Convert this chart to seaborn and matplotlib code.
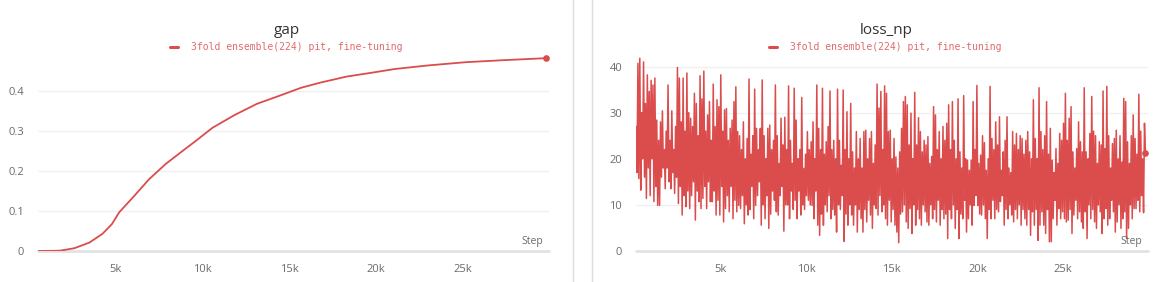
import numpy as np
import pandas as pd
import matplotlib
matplotlib.use("Agg")
import matplotlib.pyplot as plt
import seaborn as sns
from matplotlib.lines import Line2D

# ---------------- data ----------------
series_name = "3fold ensemble(224) pit, fine-tuning"

gap_steps = [500, 1500, 1800, 2600, 3460, 4220, 4760, 5190, 6040, 6900, 7880, 8840,
             9600, 10570, 11850, 13140, 14430, 15680, 16800, 18310, 19810, 21100,
             23040, 25190, 27340, 29800]
gap_values = [0.0, 0.0005, 0.001, 0.007, 0.021, 0.043, 0.067, 0.097, 0.137, 0.179,
              0.218, 0.25, 0.275, 0.308, 0.34, 0.368, 0.388, 0.408, 0.421, 0.436,
              0.446, 0.455, 0.464, 0.472, 0.477, 0.482]

loss_np_seg1 = [27, 17, 40.7, 15.7, 41.8, 13.2, 30, 20, 41, 16, 32, 11.4, 38.2, 18,
                34.6, 12, 37, 20, 36, 10.7, 37.5, 14, 28.4, 9.9, 24, 9.9, 28, 16,
                30.4, 18, 22, 13.5, 26, 18, 36, 15, 24, 13.5, 30.4, 17, 22, 12.5,
                27, 16, 39.8, 10.3, 37.5, 14, 28, 7.8, 37.5, 12, 26, 9.6, 38.6, 13,
                30, 9.2, 28.8, 12, 27, 15, 34.2, 6.7, 32, 13, 25, 10.7, 38, 9.2,
                33, 11.4, 39, 14, 26, 9.2, 29.5, 15, 32.4, 10.7, 24, 10.7, 36.2, 13,
                27, 7.8, 32.8, 11, 31.3, 7.8, 38.2, 14, 26, 6.3, 30.6, 9.2, 30.9, 12,
                24, 8.5, 26.6, 14, 28.4, 7, 32.4, 11, 35.6, 8.5, 25.9, 9.9]
loss_np_seg2 = [25, 9.2, 22, 12, 28, 5.9, 20, 10, 24.4, 7.8, 37.3, 9, 21, 14, 25, 7,
                35.1, 9.9, 26.6, 12, 22, 15, 26.6, 5.6, 37.1, 10, 25, 7, 20, 12,
                26.6, 4.9, 27.3, 8, 22, 13, 24, 11, 36, 8.5, 25, 7.8, 19, 12,
                28.8, 14, 23, 4.3, 29, 10, 22, 10, 35.8, 7, 24, 13, 19, 9, 35.3, 11,
                28.4, 7, 20, 13, 22, 7.8, 33.3, 10, 17.9, 9, 21, 12, 25.9, 11, 22, 10,
                23.7, 9.9, 28, 7, 20, 13, 36, 5.6, 26.6, 3.4, 22, 8, 35.3, 5.6, 21, 10,
                23.7, 8.5, 27, 12, 34.7, 7, 22, 9, 24, 7.8, 20, 4.1, 35.1, 10, 24, 9,
                18.6, 12]
loss_np_seg3 = [34.9, 2.1, 22, 8, 30.2, 5.6, 20, 10, 32, 7.8, 21.5, 5.6, 18, 10,
                25.9, 4.1, 20, 9, 24.4, 7, 18, 4.1, 25.9, 9, 26.2, 6.3, 20, 11,
                24.4, 7.8, 25.9, 4.9, 19, 10, 23, 9.2, 36.2, 7.8, 31, 12, 34.6, 8.5,
                22, 10, 35.8, 7, 34.2, 5.6, 25.9, 11, 26.2, 6.3, 20, 9, 24.4, 5.6,
                20.4, 4.1, 18, 1.8, 21.5, 8, 26.6, 8.5, 32.4, 10, 33.5, 6.3, 31.7, 4.9,
                23, 9.2, 29.9, 3.8, 20, 10, 34.4, 5.6, 23, 9, 28.9, 7, 25.9, 5.6,
                21.5, 10, 24, 8.5, 23, 6.3, 24.8, 5.6, 19, 10, 20.5, 7, 31.3, 9,
                29.5, 6.3, 22, 11, 25.9, 5.6, 20, 9, 27, 7, 24, 8]
loss_np_seg4 = [27.7, 2.7, 31.7, 9, 22, 7, 32.4, 10, 24, 4.9, 20, 9, 33, 2.7, 21.5, 8,
                18, 7, 33.7, 11, 20, 4.1, 19.7, 7, 17.5, 10, 19.7, 5.6, 32.4, 9.9,
                22, 12, 35.9, 9.9, 19, 8, 20.8, 7.8, 25, 10, 23.5, 7, 17.5, 2.7, 20, 9,
                35.7, 7, 24.4, 11, 22, 7, 28, 9, 23, 8.5, 29.1, 10.7, 17.5, 12,
                21.5, 5.6, 24, 9, 29.1, 7, 18, 10, 17, 7.8, 25.9, 6.3, 23, 9, 25.5, 7,
                22, 10, 25, 5.6, 24.4, 9, 21, 7, 24, 5.6, 25.9, 9, 21.5, 3.4, 20, 8.5,
                32.8, 5.6, 24.4, 9, 20, 2.3, 35.4, 5.6, 25.9, 8.5, 22, 5.6, 25, 3.8,
                32.4, 9, 21, 2]
loss_np_seg5 = [26.6, 2, 19.7, 7, 17, 11, 22.2, 5.6, 19, 9.2, 25.5, 7, 24, 8.5,
                27.7, 7, 34.2, 6.3, 24, 6.7, 28.8, 9, 31.3, 3.8, 21.5, 7.8, 18, 11,
                22.2, 7, 28, 8.5, 23.7, 6.3, 21.5, 4.9, 35.4, 8.5, 21.5, 2.7, 20, 10,
                25.5, 7, 33.5, 9, 26, 6.3, 25, 4.9, 19, 10, 23.7, 8.5, 23, 3.8,
                34.7, 7, 22.2, 9.2, 35.7, 5.6, 25, 7, 18, 11, 23.3, 8.5, 24.4, 4.1,
                26.2, 6.3, 20, 10, 25, 4.9, 19.3, 7, 33.1, 8.5, 32.4, 2.7, 23.7, 4.9,
                19, 10, 25, 7, 29.5, 9.2, 24.4, 9.2, 21, 11, 34, 8.5, 26, 12, 20, 8.3,
                27.7, 21.3]

loss_np_values = loss_np_seg1 + loss_np_seg2 + loss_np_seg3 + loss_np_seg4 + loss_np_seg5
loss_np_first_step = 60
loss_np_step_every = 55
loss_np_steps = [loss_np_first_step + i * loss_np_step_every for i in range(len(loss_np_values))]

x_ticks = [5000, 10000, 15000, 20000, 25000]
x_tick_labels = ["5k", "10k", "15k", "20k", "25k"]
gap_yticks = [0, 0.1, 0.2, 0.3, 0.4]
gap_ytick_labels = ["0", "0.1", "0.2", "0.3", "0.4"]
loss_yticks = [0, 10, 20, 30, 40]
loss_ytick_labels = ["0", "10", "20", "30", "40"]

# ---------------- style ----------------
sns.set_style("white")
plt.rcParams["font.family"] = ["Open Sans", "DejaVu Sans"]

LINE = "#db4c4c"
LEGEND_TXT = "#e06a6a"
TICK_TXT = "#6b6b6b"
GRID = "#f0f0f0"
BASE = "#e2e2e2"

W, H = 1160, 282
fig = plt.figure(figsize=(W / 100, H / 100), dpi=100)
fig.patch.set_facecolor("white")


def px_rect(x0, x1, ytop, ybot):
    return [x0 / W, 1 - ybot / H, (x1 - x0) / W, (ybot - ytop) / H]


ax1 = fig.add_axes(px_rect(38, 549, 55, 251))
ax2 = fig.add_axes(px_rect(636, 1148, 55, 251))

df_gap = pd.DataFrame({"step": gap_steps, "value": gap_values})
df_loss = pd.DataFrame({"step": loss_np_steps, "value": loss_np_values})

sns.lineplot(data=df_gap, x="step", y="value", ax=ax1, color=LINE, lw=1.3,
             estimator=None, sort=False)
sns.lineplot(data=df_loss, x="step", y="value", ax=ax2, color=LINE, lw=1.1,
             estimator=None, sort=False)

ax1.plot([gap_steps[-1]], [gap_values[-1]], "o", color=LINE, ms=3.8, clip_on=False)
ax2.plot([loss_np_steps[-1]], [loss_np_values[-1]], "o", color=LINE, ms=3.8, clip_on=False)

for ax, xl, yl, yt, ytl in [
    (ax1, (497, 30000), (0, 0.49), gap_yticks, gap_ytick_labels),
    (ax2, (58, 29965), (0, 42.5), loss_yticks, loss_ytick_labels),
]:
    ax.set_xlim(*xl)
    ax.set_ylim(*yl)
    ax.set_facecolor("none")
    for s in ax.spines.values():
        s.set_visible(False)
    for v in yt[1:]:
        ax.axhline(v, color=GRID, lw=1.0, zorder=0)
    ax.axhline(0, color=BASE, lw=2.0, zorder=0.5, clip_on=False)
    ax.set_xticks(x_ticks)
    ax.set_xticklabels(x_tick_labels)
    ax.set_yticks(yt)
    ax.set_yticklabels(ytl)
    ax.tick_params(axis="x", direction="inout", length=8, width=0.8, color=BASE,
                   pad=5, labelsize=8, labelcolor=TICK_TXT)
    ax.tick_params(axis="y", length=0, pad=10, labelsize=8, labelcolor=TICK_TXT)
    ax.set_xlabel("")
    ax.set_ylabel("")
    ax.grid(False)

# titles and legends
for cx, title in [(287, "gap"), (886, "loss_np")]:
    fig.text(cx / W, 1 - 31 / H, title, ha="center", va="center", fontsize=11,
             color="#333333")
    fig.text((cx + 10) / W, 1 - 47 / H, series_name, ha="center", va="center",
             fontsize=7, color=LEGEND_TXT, family=["DejaVu Sans Mono"])
    fig.add_artist(Line2D([(cx - 117) / W, (cx - 109) / W], [1 - 46.5 / H, 1 - 46.5 / H],
                          color=LINE, lw=2.2))

# "Step" labels
fig.text(543 / W, 1 - 241.5 / H, "Step", ha="right", va="center", fontsize=7.5,
         color=TICK_TXT)
fig.text(1142 / W, 1 - 241.5 / H, "Step", ha="right", va="center", fontsize=7.5,
         color=TICK_TXT)

# panel borders
fig.add_artist(Line2D([573 / W, 573 / W], [0, 1], color="#dddddd", lw=1.0))
fig.add_artist(Line2D([592 / W, 592 / W], [0, 1], color="#dddddd", lw=1.0))

fig.savefig("out.png", dpi=100, facecolor="white")
